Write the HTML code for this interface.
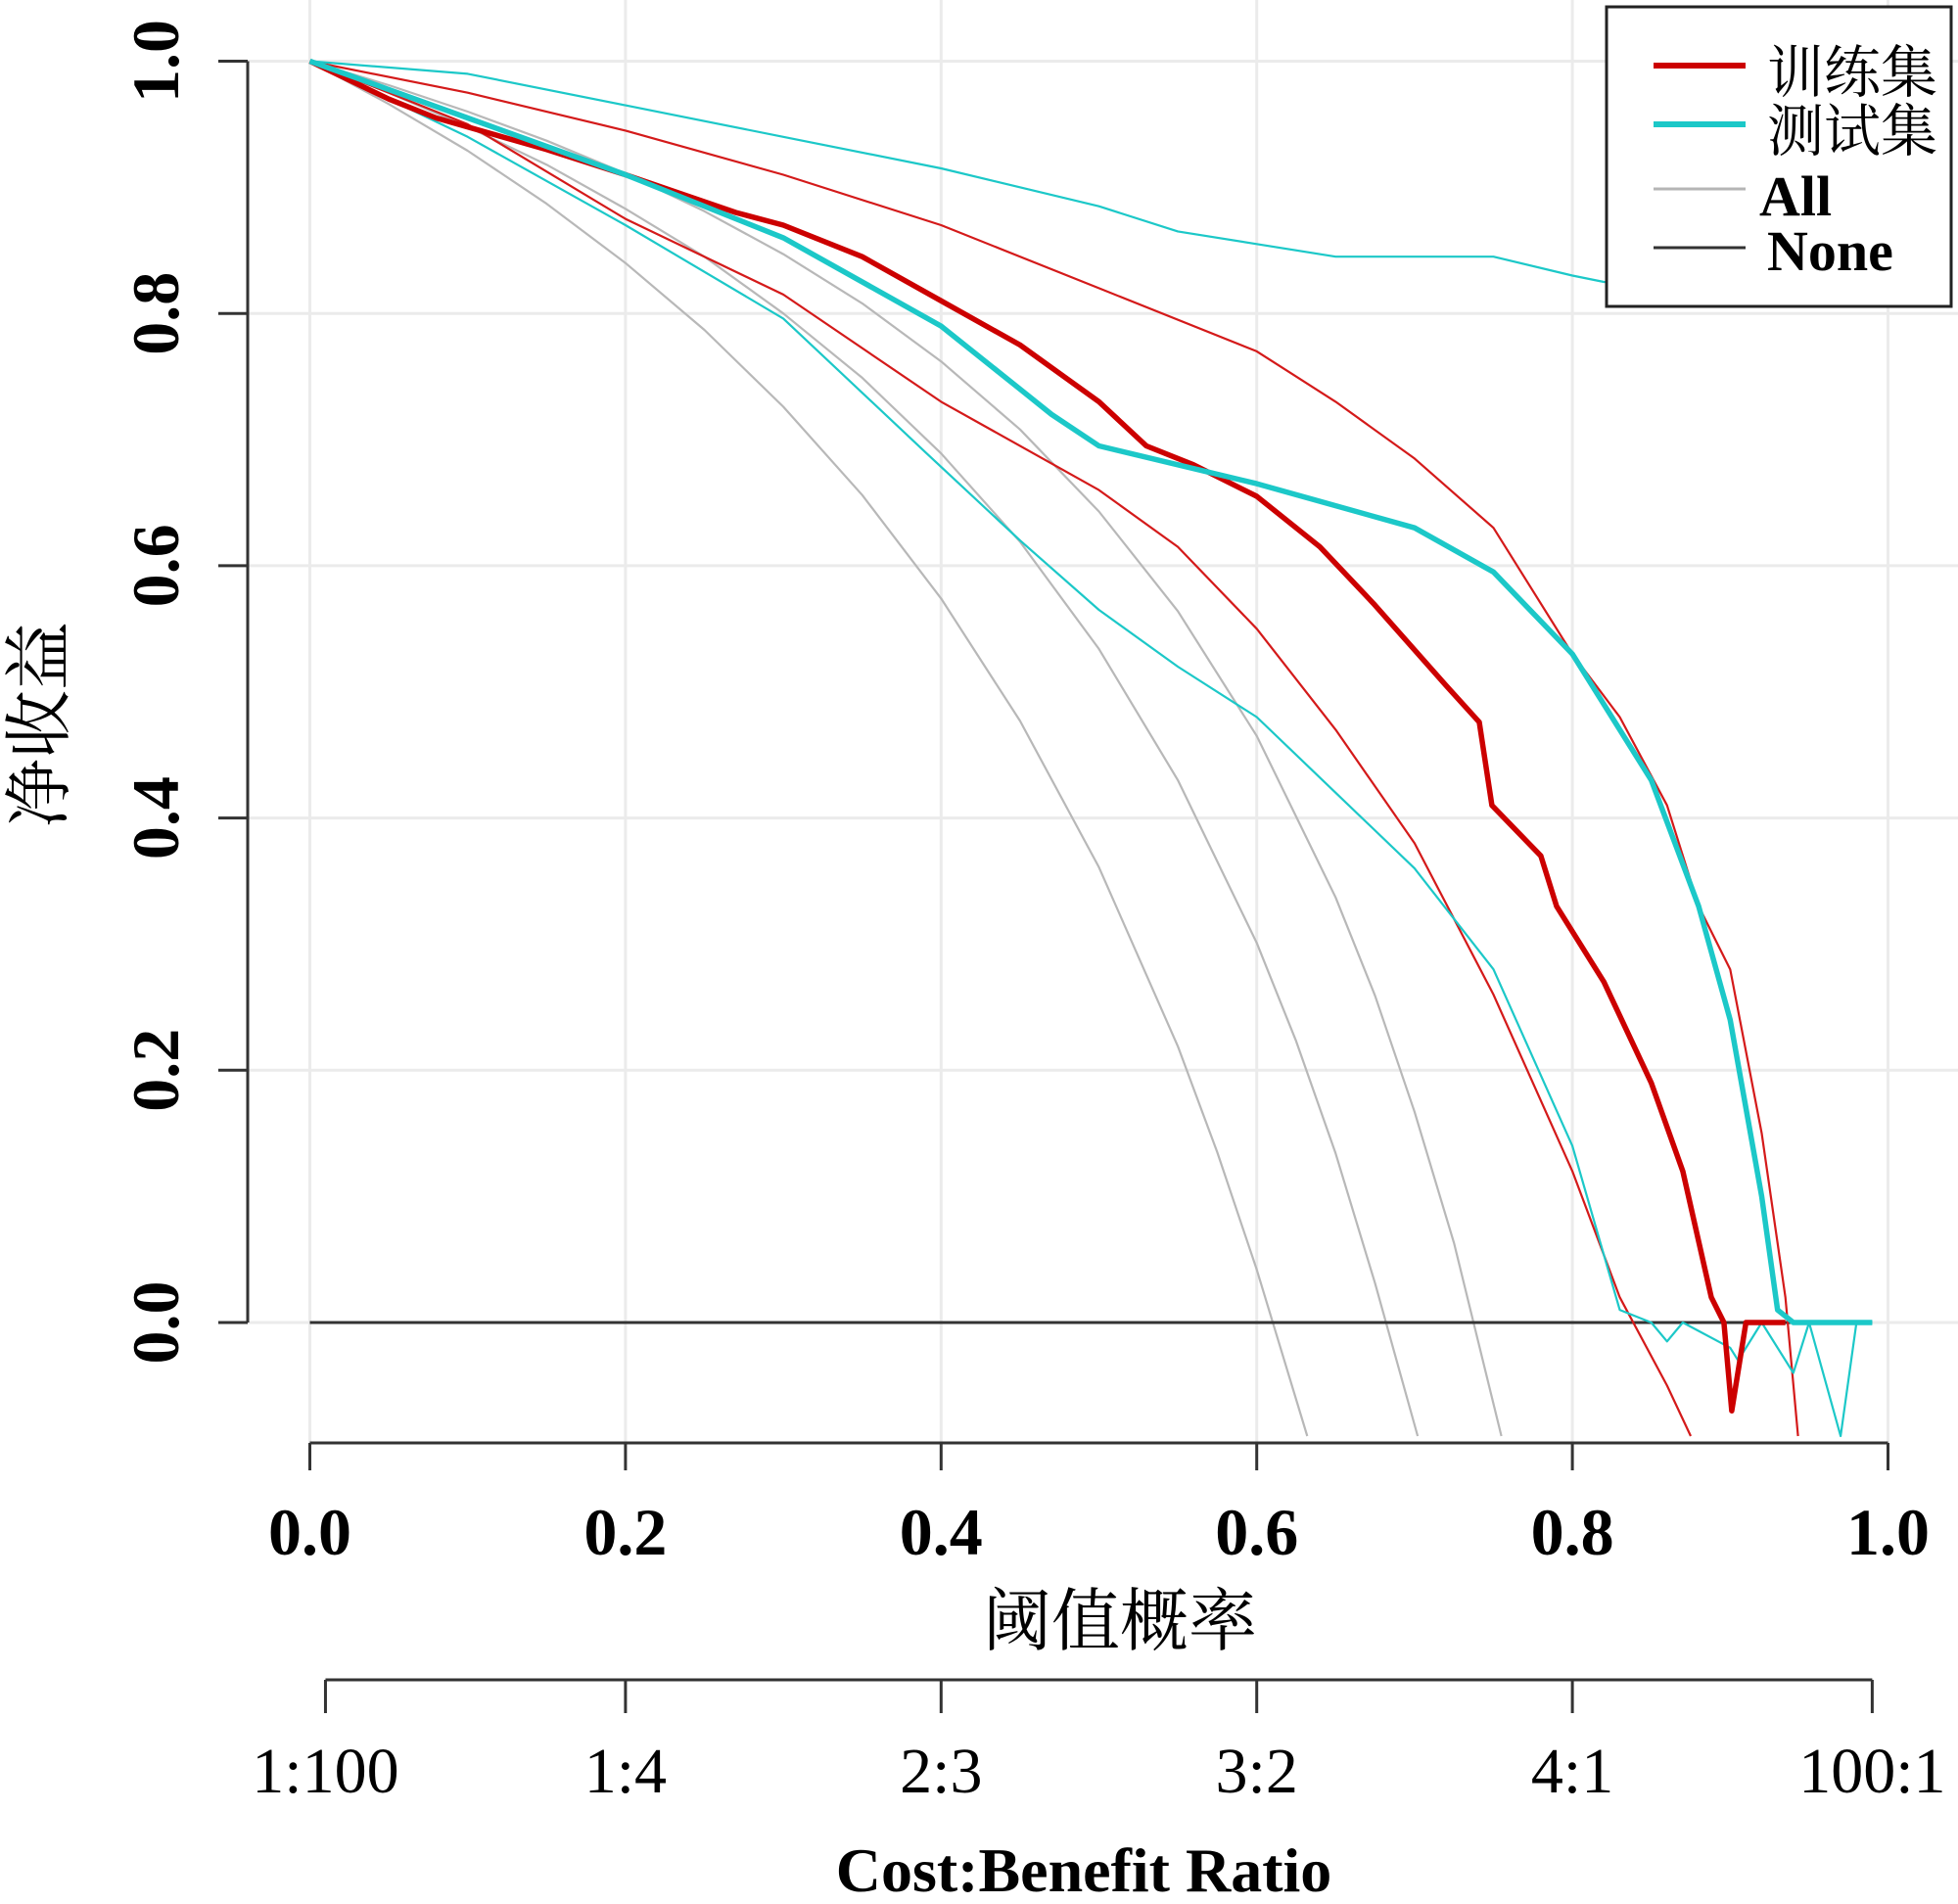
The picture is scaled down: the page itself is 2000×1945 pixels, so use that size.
<!DOCTYPE html>
<html><head><meta charset="utf-8">
<style>
html,body{margin:0;padding:0;background:#fff;}
svg{display:block;}
text{font-family:"Liberation Serif","Noto Serif CJK SC","Noto Sans CJK SC",serif;fill:#000;}
.b{font-weight:bold;}
.n{font-weight:normal;}
</style></head>
<body>
<svg id="chart" width="2000" height="1945" viewBox="0 0 2000 1945" xmlns="http://www.w3.org/2000/svg">
<g id="grid"></g>
<g id="series"></g>
<g id="axes"></g>
<g>
  <rect x="1641" y="7" width="352" height="306" fill="#fff" stroke="#222" stroke-width="3"/>
  <line x1="1689" y1="67" x2="1783" y2="67" stroke="#cc0000" stroke-width="6"/>
  <text class="n" x="1805" y="94" font-size="58">训练集</text>
  <line x1="1689" y1="127" x2="1783" y2="127" stroke="#1cc8c8" stroke-width="6"/>
  <text class="n" x="1805" y="154" font-size="58">测试集</text>
  <line x1="1689" y1="193" x2="1783" y2="193" stroke="#b5b5b5" stroke-width="3"/>
  <text class="b" x="1797" y="220" font-size="58">All</text>
  <line x1="1689" y1="253" x2="1783" y2="253" stroke="#333" stroke-width="3"/>
  <text class="b" x="1805" y="276" font-size="58">None</text>
</g>
<text class="n" x="1144" y="1680" font-size="70" text-anchor="middle">阈值概率</text>
<text class="b" x="1107" y="1932" font-size="64" text-anchor="middle">Cost:Benefit Ratio</text>
<text class="n" transform="translate(64,740) rotate(-90)" font-size="70" text-anchor="middle">净收益</text>
</svg>
<script>
const xTicks = [0, 0.2, 0.4, 0.6, 0.8, 1.0];
const xTickLabels = ["0.0","0.2","0.4","0.6","0.8","1.0"];
const yTicks = [0, 0.2, 0.4, 0.6, 0.8, 1.0];
const yTickLabels = ["0.0","0.2","0.4","0.6","0.8","1.0"];
const cbTicks = [0.0099, 0.2, 0.4, 0.6, 0.8, 0.99];
const cbLabels = ["1:100","1:4","2:3","3:2","4:1","100:1"];

const allP1 = [0,0.05,0.1,0.15,0.2,0.25,0.3,0.35,0.4,0.45,0.5,0.55,0.575,0.6,0.632];
const allV1 = [1,0.966,0.929,0.887,0.840,0.787,0.726,0.656,0.574,0.477,0.361,0.219,0.135,0.042,-0.09];
const allP2 = [0,0.05,0.1,0.15,0.2,0.25,0.3,0.35,0.4,0.45,0.5,0.55,0.6,0.625,0.65,0.675,0.702];
const allV2 = [1,0.975,0.948,0.918,0.883,0.845,0.800,0.749,0.689,0.619,0.534,0.430,0.301,0.223,0.134,0.031,-0.09];
const allP3 = [0,0.05,0.1,0.15,0.2,0.25,0.3,0.35,0.4,0.45,0.5,0.55,0.6,0.65,0.675,0.7,0.725,0.755];
const allV3 = [1,0.981,0.960,0.937,0.911,0.881,0.847,0.808,0.762,0.708,0.643,0.564,0.465,0.337,0.259,0.167,0.063,-0.09];

const noneP = [0, 0.99];
const noneV = [0, 0];

const trainP = [0,0.05,0.08,0.15,0.2,0.27,0.3,0.35,0.4,0.45,0.5,0.53,0.56,0.6,0.64,0.674,0.72,0.741,0.749,0.78,0.79,0.82,0.85,0.87,0.888,0.896,0.901,0.91,0.935];
const trainV = [1,0.97,0.955,0.93,0.91,0.88,0.87,0.845,0.81,0.775,0.73,0.695,0.68,0.655,0.615,0.57,0.505,0.476,0.41,0.37,0.33,0.27,0.19,0.12,0.02,0,-0.07,0,0];
const trainUpP = [0,0.1,0.2,0.3,0.4,0.5,0.6,0.65,0.7,0.75,0.8,0.83,0.86,0.88,0.9,0.92,0.935,0.943];
const trainUpV = [1,0.975,0.945,0.91,0.87,0.82,0.77,0.73,0.685,0.63,0.53,0.48,0.41,0.33,0.28,0.15,0.02,-0.09];
const trainLoP = [0,0.1,0.2,0.3,0.4,0.5,0.55,0.6,0.65,0.7,0.75,0.8,0.83,0.86,0.875];
const trainLoV = [1,0.95,0.875,0.815,0.73,0.66,0.615,0.55,0.47,0.38,0.26,0.12,0.02,-0.05,-0.09];

const testP = [0,0.1,0.2,0.3,0.4,0.45,0.47,0.5,0.55,0.6,0.7,0.75,0.8,0.85,0.88,0.9,0.92,0.93,0.94,0.99];
const testV = [1,0.955,0.91,0.86,0.79,0.74,0.72,0.695,0.68,0.665,0.63,0.595,0.53,0.43,0.33,0.24,0.1,0.01,0,0];
const testUpP = [0,0.1,0.2,0.3,0.4,0.5,0.55,0.6,0.65,0.75,0.8,0.82,0.9,0.99];
const testUpV = [1,0.99,0.965,0.94,0.915,0.885,0.865,0.855,0.845,0.845,0.83,0.825,0.82,0.82];
const testLoP = [0,0.1,0.2,0.3,0.39,0.45,0.5,0.55,0.6,0.65,0.7,0.75,0.8,0.83,0.85,0.86,0.87,0.9,0.905,0.92,0.94,0.95,0.97,0.98,0.99];
const testLoV = [1,0.94,0.87,0.796,0.69,0.62,0.565,0.52,0.48,0.42,0.36,0.28,0.14,0.01,0,-0.015,0,-0.02,-0.03,0,-0.04,0,-0.09,0,0];

const NS = "http://www.w3.org/2000/svg";
function X(p){ return 316.5 + 1612 * p; }
function Y(v){ return 1351 - 1288.5 * v; }
function mk(tag, attrs, parent){
  const e = document.createElementNS(NS, tag);
  for (const k in attrs) e.setAttribute(k, attrs[k]);
  parent.appendChild(e);
  return e;
}
const grid = document.getElementById('grid');
const axes = document.getElementById('axes');
const series = document.getElementById('series');

xTicks.forEach((t,i)=>{
  const g = mk('line',{x1:X(t),x2:X(t),y1:0,y2:1474,stroke:'#ebebeb','stroke-width':3},grid);
  
  
});
yTicks.forEach((t,i)=>{
  const g = mk('line',{x1:253,x2:2000,y1:Y(t),y2:Y(t),stroke:'#ebebeb','stroke-width':3},grid);
  
  
});

function drawLine(P,V,color,w,name){
  let d = '';
  P.forEach((p,i)=>{ d += (i?'L':'M') + X(p).toFixed(1) + ',' + Y(V[i]).toFixed(1); });
  const e = mk('path',{d:d,fill:'none',stroke:color,'stroke-width':w,'stroke-linejoin':'round'},series);
  
  
}
drawLine(allP1,allV1,'#b8b8b8',2.2,'all-lower-curve');
drawLine(allP2,allV2,'#b8b8b8',2.2,'all-curve');
drawLine(allP3,allV3,'#b8b8b8',2.2,'all-upper-curve');
drawLine(noneP,noneV,'#333',3,'none-line');
drawLine(trainUpP,trainUpV,'#d41a1a',2.2,'train-upper-ci');
drawLine(trainLoP,trainLoV,'#d41a1a',2.2,'train-lower-ci');
drawLine(testUpP,testUpV,'#1cc8c8',2.2,'test-upper-ci');
drawLine(testLoP,testLoV,'#1cc8c8',2.2,'test-lower-ci');
drawLine(trainP,trainV,'#cc0000',5.5,'train-curve');
drawLine(testP,testV,'#1cc8c8',5.5,'test-curve');

let a = mk('line',{x1:253,x2:253,y1:Y(1),y2:Y(0),stroke:'#333','stroke-width':3},axes);


yTicks.forEach((t,i)=>{
  const tk = mk('line',{x1:223,x2:253,y1:Y(t),y2:Y(t),stroke:'#333','stroke-width':3},axes);
  
  
  const tx = mk('text',{class:'b',transform:'translate(182,'+Y(t)+') rotate(-90)','font-size':68,'text-anchor':'middle'},axes);
  tx.textContent = yTickLabels[i];
  
  
});
a = mk('line',{x1:X(0),x2:X(1),y1:1474,y2:1474,stroke:'#333','stroke-width':3},axes);


xTicks.forEach((t,i)=>{
  const tk = mk('line',{x1:X(t),x2:X(t),y1:1474,y2:1502,stroke:'#333','stroke-width':3},axes);
  
  
  const tx = mk('text',{class:'b',x:X(t),y:1588,'font-size':68,'text-anchor':'middle'},axes);
  tx.textContent = xTickLabels[i];
  
  
});
a = mk('line',{x1:X(cbTicks[0]),x2:X(cbTicks[cbTicks.length-1]),y1:1716,y2:1716,stroke:'#333','stroke-width':3},axes);


cbTicks.forEach((t,i)=>{
  const tk = mk('line',{x1:X(t),x2:X(t),y1:1716,y2:1750,stroke:'#333','stroke-width':3},axes);
  
  
  const tx = mk('text',{class:'n',x:X(t),y:1831,'font-size':66,'text-anchor':'middle'},axes);
  tx.textContent = cbLabels[i];
  
  
});
</script>
</body></html>
